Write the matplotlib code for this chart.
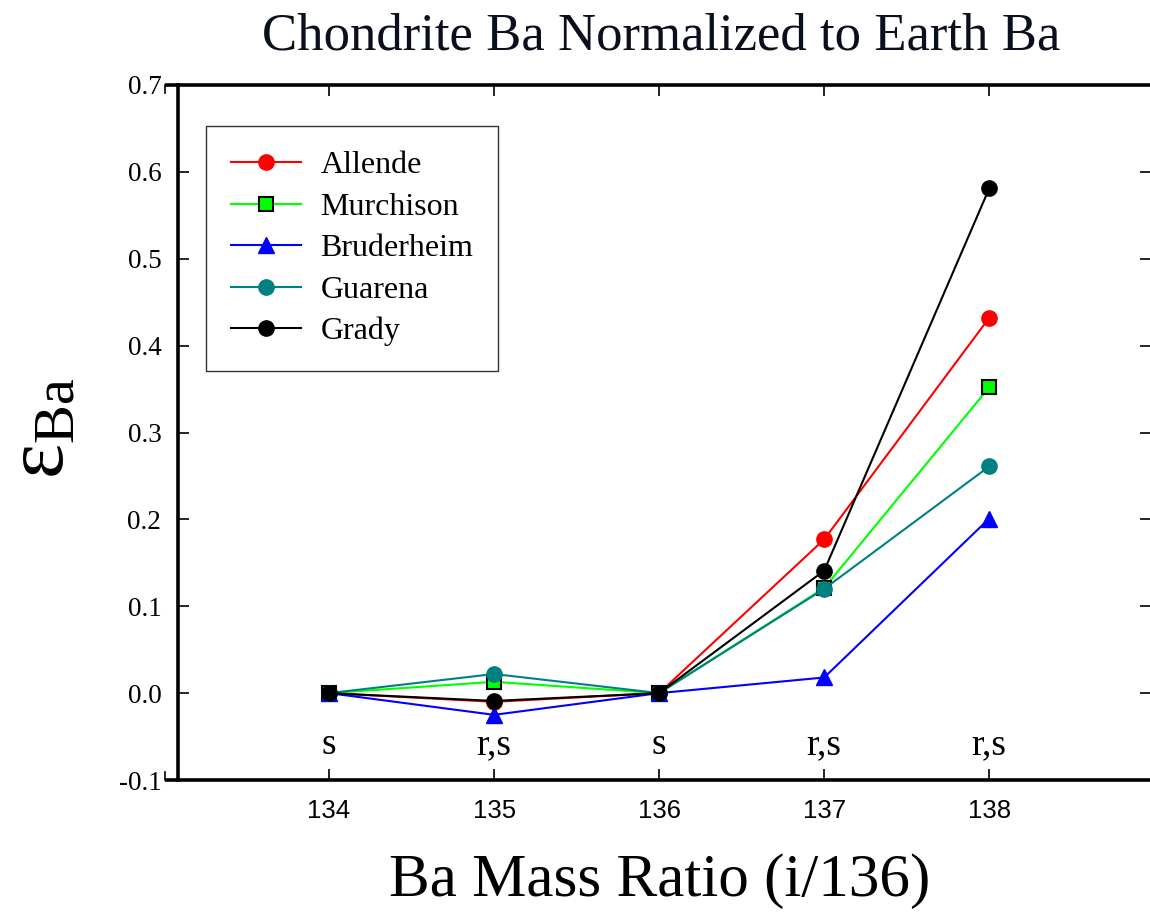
import matplotlib
matplotlib.use("Agg")
import matplotlib.pyplot as plt

masses = [134, 135, 136, 137, 138]
process_labels = ["s", "r,s", "s", "r,s", "r,s"]
y_ticks = [-0.1, 0.0, 0.1, 0.2, 0.3, 0.4, 0.5, 0.6, 0.7]
y_tick_labels = ["-0.1", "0.0", "0.1", "0.2", "0.3", "0.4", "0.5", "0.6", "0.7"]

allende = [0.0, -0.010, 0.0, 0.177, 0.432]
murchison = [0.0, 0.013, 0.0, 0.121, 0.352]
bruderheim = [0.0, -0.025, 0.0, 0.018, 0.201]
guarena = [0.0, 0.022, 0.0, 0.120, 0.261]
grady = [0.0, -0.009, 0.0, 0.141, 0.581]

plt.rcParams['mathtext.fontset'] = 'custom'
plt.rcParams['mathtext.rm'] = 'Liberation Serif'
plt.rcParams['mathtext.it'] = 'Liberation Serif:italic'

W, H = 1150, 914
fig = plt.figure(figsize=(W / 100, H / 100), dpi=100)
ax = fig.add_axes([178 / W, 1 - 780 / H, (1151 - 178) / W, (780 - 85) / H])

series = [
    ("Allende", allende, dict(color="#ff0000", marker="o", mfc="#ff0000", mec="#ff0000", ms=11)),
    ("Murchison", murchison, dict(color="#00ff00", marker="s", mfc="#00ff00", mec="black", ms=10, mew=1.5)),
    ("Bruderheim", bruderheim, dict(color="#0000ff", marker="^", mfc="#0000ff", mec="#0000ff", ms=12)),
    ("Guarena", guarena, dict(color="#008080", marker="o", mfc="#008080", mec="#008080", ms=11)),
    ("Grady", grady, dict(color="black", marker="o", mfc="black", mec="black", ms=11)),
]
for name, vals, st in series:
    ax.plot(masses, vals, lw=1.5, label=name, **st)

for m, lab in zip(masses, process_labels):
    ax.text(m, -0.06, lab, ha="center", va="center", fontsize=27, family="Liberation Serif")

ax.set_xlim(133.085, 138.98)
ax.set_ylim(-0.1, 0.7)
ax.set_xticks(masses)
ax.set_xticklabels([str(m) for m in masses], family="Liberation Sans", fontsize=18.5)
ax.set_yticks(y_ticks)
ax.set_yticklabels(y_tick_labels, family="Liberation Serif", fontsize=19.5)
ax.tick_params(axis="both", direction="in", length=8, width=1.2, top=True, right=True)
ax.tick_params(axis="x", pad=14)
ax.tick_params(axis="y", pad=12)
for s in ["left", "top", "bottom"]:
    ax.spines[s].set_linewidth(2.6)
ax.spines["right"].set_visible(False)

# little extension of top/bottom spines to the left
ext = (165 - 178) / (1151 - 178)
for yy, dy in [(1.0, -0.012), (0.0, 0.012)]:
    ax.plot([ext, 0], [yy, yy], transform=ax.transAxes, color="black", lw=2.6, clip_on=False, solid_capstyle="butt")
    ax.plot([ext, ext], [yy, yy + dy], transform=ax.transAxes, color="black", lw=1.2, clip_on=False)

leg = ax.legend(loc="upper left", bbox_to_anchor=((206 - 178) / 973, 1 - (126 - 85) / 695),
                prop=dict(family="Liberation Serif", size=23), frameon=True, fancybox=False,
                edgecolor="black", borderpad=0.78, labelspacing=0.38, handlelength=2.2,
                handletextpad=0.6, borderaxespad=0)
leg.get_frame().set_linewidth(1.0)

fig.text(661 / W, 1 - 36 / H, "Chondrite Ba Normalized to Earth Ba", ha="center", va="center",
         fontsize=38, family="Liberation Serif", color="#0a0f1e")
fig.text(660 / W, 1 - 881 / H, "Ba Mass Ratio (i/136)", ha="center", va="center",
         fontsize=44, family="Liberation Serif")
fig.text(40 / W, 1 - 428 / H, r"$\mathrm{\varepsilon_{Ba}}$", ha="center", va="center",
         rotation=90, fontsize=60)

fig.savefig("out.png", dpi=100)
